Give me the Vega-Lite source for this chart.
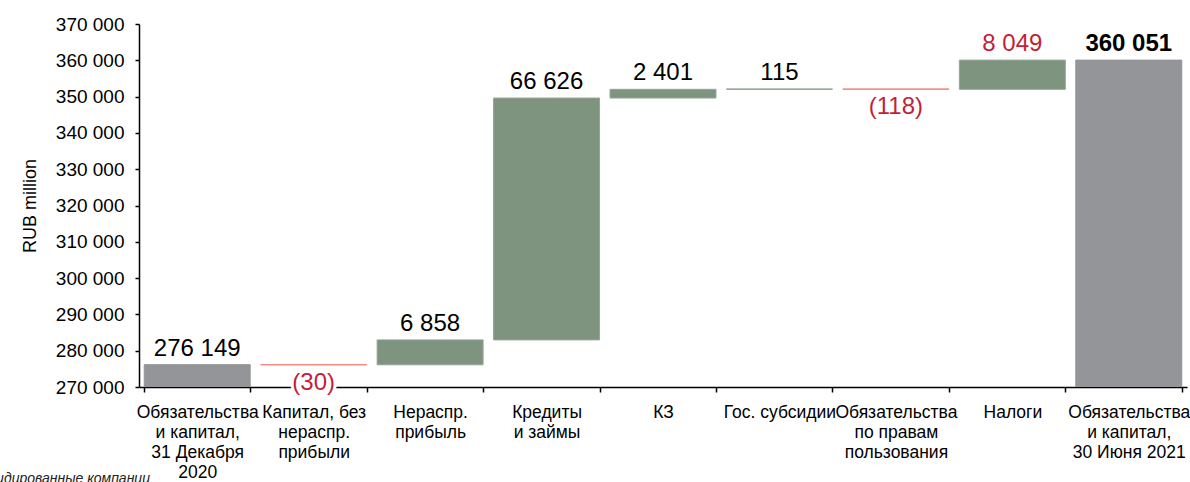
{
  "$schema": "https://vega.github.io/schema/vega-lite/v6.json",
  "width": 1048,
  "height": 363,
  "autosize": "none",
  "padding": {"left": 139, "top": 24, "right": 3, "bottom": 95},
  "background": "white",
  "config": {
    "view": {"stroke": null},
    "font": "Liberation Sans",
    "locale": {"number": {"decimal": ",", "thousands": " ", "grouping": [3], "currency": ["", ""]}}
  },
  "title": {
    "text": "Консолидированные компании",
    "orient": "bottom",
    "anchor": "start",
    "frame": "group",
    "fontSize": 14,
    "fontStyle": "italic",
    "fontWeight": "normal",
    "color": "#222222",
    "dx": -189,
    "offset": -9
  },
  "data": {
    "values": [
      {"cat": "Обязательства|и капитал,|31 Декабря|2020", "start": 0, "end": 276149, "kind": "total", "lbl": "276 149", "lc": "black"},
      {"cat": "Капитал, без|нераспр.|прибыли", "start": 276149, "end": 276119, "kind": "down", "lbl": "(30)", "lc": "red"},
      {"cat": "Нераспр.|прибыль", "start": 276119, "end": 282977, "kind": "up", "lbl": "6 858", "lc": "black"},
      {"cat": "Кредиты|и займы", "start": 282977, "end": 349603, "kind": "up", "lbl": "66 626", "lc": "black"},
      {"cat": "КЗ", "start": 349603, "end": 352004, "kind": "up", "lbl": "2 401", "lc": "black"},
      {"cat": "Гос. субсидии", "start": 352004, "end": 352119, "kind": "up", "lbl": "115", "lc": "black"},
      {"cat": "Обязательства|по правам|пользования", "start": 352119, "end": 352001, "kind": "down", "lbl": "(118)", "lc": "red"},
      {"cat": "Налоги", "start": 352001, "end": 360050, "kind": "up", "lbl": "8 049", "lc": "red"},
      {"cat": "Обязательства|и капитал,|30 Июня 2021", "start": 0, "end": 360051, "kind": "total", "lbl": "360 051", "lc": "bold"}
    ]
  },
  "encoding": {
    "x": {
      "field": "cat",
      "type": "nominal",
      "sort": null,
      "scale": {"paddingInner": 0.09, "paddingOuter": 0.045},
      "axis": {
        "title": null,
        "labelExpr": "isValid(datum.value) ? split(datum.value, '|') : ''",
        "labelFontSize": 17.5,
        "labelLineHeight": 20,
        "labelColor": "#000000",
        "labelAngle": 0,
        "labelOverlap": false,
        "labelBound": false,
        "labelLimit": 0,
        "labelPadding": 11,
        "tickBand": "extent",
        "tickSize": 5,
        "tickColor": "#000000",
        "tickWidth": 1.5,
        "domainColor": "#000000",
        "domainWidth": 1.5
      }
    }
  },
  "resolve": {"axis": {"y": "independent"}},
  "layer": [
    {
      "mark": {"type": "bar", "strokeWidth": 1, "clip": true},
      "encoding": {
        "y": {
          "field": "start",
          "type": "quantitative",
          "scale": {"domain": [270000, 370000], "nice": false, "zero": false},
          "axis": {
            "title": "RUB million",
            "titleFontSize": 18,
            "titleFontWeight": "normal",
            "titleColor": "#000000",
            "titlePadding": 16,
            "values": [270000, 280000, 290000, 300000, 310000, 320000, 330000, 340000, 350000, 360000, 370000],
            "format": ",d",
            "labelFontSize": 19,
            "labelColor": "#000000",
            "labelPadding": 11,
            "labelOverlap": false,
            "labelFlush": false,
            "tickSize": 4,
            "tickColor": "#000000",
            "tickWidth": 1.5,
            "domainColor": "#000000",
            "domainWidth": 1.5,
            "grid": false
          }
        },
        "y2": {"field": "end"},
        "color": {
          "field": "kind",
          "type": "nominal",
          "scale": {"domain": ["total", "up", "down"], "range": ["#939598", "#7e947f", "#f3857d"]},
          "legend": null
        },
        "stroke": {
          "field": "kind",
          "type": "nominal",
          "scale": {"domain": ["total", "up", "down"], "range": ["#939598", "#95a695", "#f3857d"]},
          "legend": null
        }
      }
    },
    {
      "transform": [{"filter": "datum.kind != 'down' && datum.lc != 'bold'"}],
      "mark": {"type": "text", "fontSize": 24, "baseline": "alphabetic", "dy": -9},
      "encoding": {
        "y": {"field": "end", "type": "quantitative", "axis": null},
        "text": {"field": "lbl"},
        "fill": {"condition": {"test": "datum.lc == 'red'", "value": "#c41e3a"}, "value": "#000000"}
      }
    },
    {
      "transform": [{"filter": "datum.lc == 'bold'"}],
      "mark": {"type": "text", "fontSize": 24, "fontWeight": "bold", "baseline": "alphabetic", "dy": -9, "fill": "#000000"},
      "encoding": {
        "y": {"field": "end", "type": "quantitative", "axis": null},
        "text": {"field": "lbl"}
      }
    },
    {
      "transform": [{"filter": "datum.kind == 'down'"}],
      "mark": {"type": "text", "fontSize": 24, "baseline": "top", "dy": 6, "fill": "#ffffff", "stroke": "#ffffff", "strokeWidth": 6},
      "encoding": {
        "y": {"field": "end", "type": "quantitative", "axis": null},
        "text": {"field": "lbl"}
      }
    },
    {
      "transform": [{"filter": "datum.kind == 'down'"}],
      "mark": {"type": "text", "fontSize": 24, "baseline": "top", "dy": 6, "fill": "#c41e3a"},
      "encoding": {
        "y": {"field": "end", "type": "quantitative", "axis": null},
        "text": {"field": "lbl"}
      }
    }
  ]
}
